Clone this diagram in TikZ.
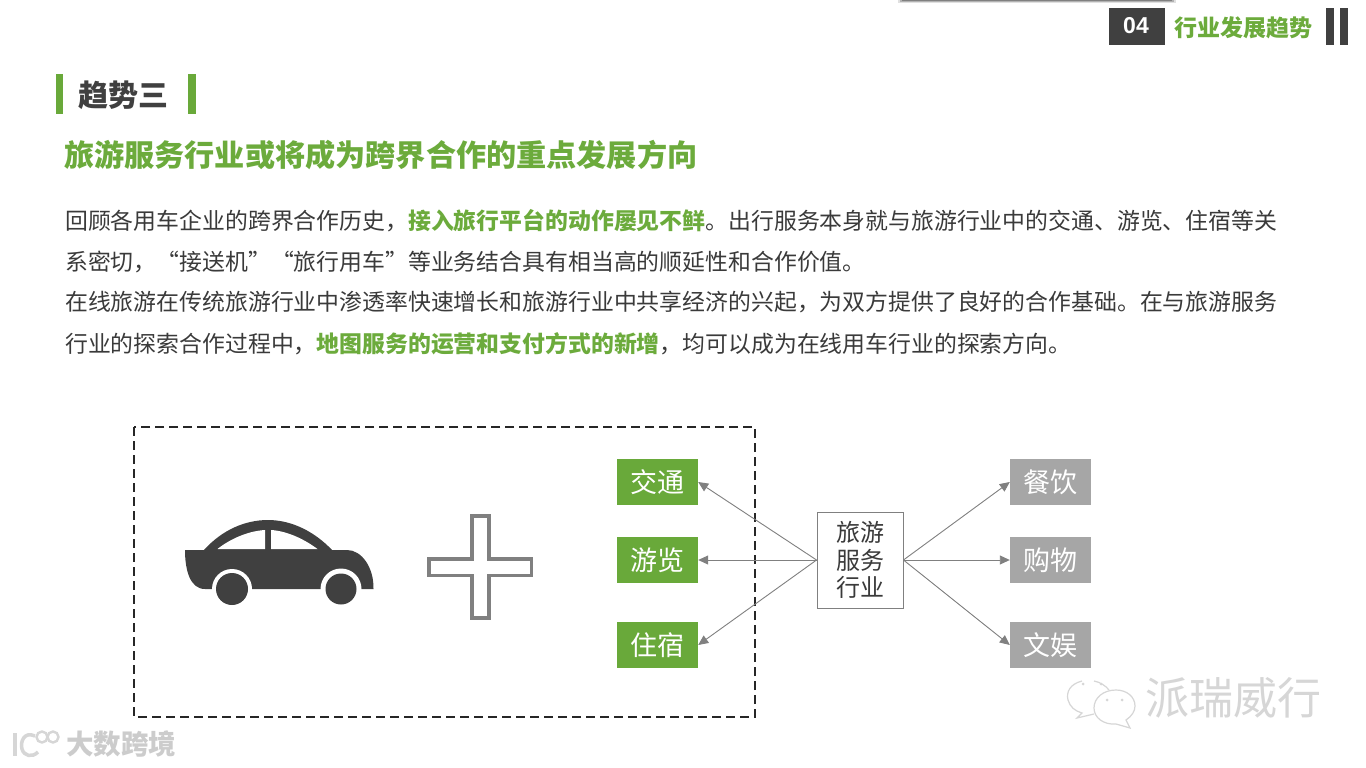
\documentclass[tikz,border=0pt]{standalone}
\usepackage{fontspec}
\setmainfont{Noto Sans CJK SC}
\newfontfamily\latinbold[Scale=1.0]{Liberation Sans}
\usetikzlibrary{arrows.meta}
\definecolor{pgreen}{HTML}{69A93A}
\definecolor{tgreen}{HTML}{6CAB3C}
\definecolor{pdark}{HTML}{404040}
\definecolor{pbody}{HTML}{3A3A3A}
\definecolor{pgrey}{HTML}{A6A6A6}
\definecolor{pline}{HTML}{808080}
\definecolor{wm}{HTML}{D6D6D6}
\newcommand{\fs}[1]{\fontsize{#1}{#1}\selectfont}
\tikzset{
  bodyline/.style={anchor=west,inner sep=0pt,text=pbody,font=\fs{22.87}},
  catbox/.style={minimum width=81pt,minimum height=46pt,inner sep=0pt,text=white,font=\fs{27}},
  greenbox/.style={catbox,fill=pgreen},
  greybox/.style={catbox,fill=pgrey},
  conn/.style={draw=pline,line width=0.9pt,-{Triangle[length=10pt,width=9pt,fill=pline]}},
  wmark/.style={inner sep=0pt,text=wm}
}
\begin{document}
\begin{tikzpicture}[x=1pt,y=-1pt]
\useasboundingbox (0,0) rectangle (1366,768);
\fill[white] (0,0) rectangle (1366,768);
% top shadow strip
\fill[black!12] (898,0) rectangle (1176,3.5);
\fill[black!30] (900,0) rectangle (1174,2);
\fill[black!50] (902,0) rectangle (1172,0.8);
% header
\node[fill=pdark,minimum width=56pt,minimum height=37pt,inner sep=0pt] (num) at (1137,26.5) {};
\node[inner sep=0pt,text=white,font=\latinbold\bfseries\fs{23}] (numt) at (1136,26) {04};
\node[inner sep=0pt,text=tgreen,font=\bfseries\fs{23}] (sect) at (1243,27.5) {行业发展趋势};
\fill[pdark] (1326,8) rectangle (1334,45);
\fill[pdark] (1340,8) rectangle (1348,45);
% heading
\fill[pgreen] (56,74) rectangle (63,114);
\fill[pgreen] (188,74) rectangle (196,114);
\node[inner sep=0pt,text=pdark,font=\bfseries\fs{30}] (trend) at (123,95) {趋势三};
\node[anchor=west,inner sep=0pt,text=tgreen,font=\bfseries\fs{30.15}] (sub) at (64,155) {旅游服务行业或将成为跨界合作的重点发展方向};
% body
\node[bodyline] (l1) at (65,221) {回顾各用车企业的跨界合作历史，\textcolor{tgreen}{\bfseries 接入旅行平台的动作屡见不鲜}。出行服务本身就与旅游行业中的交通、游览、住宿等关};
\node[bodyline] (l2) at (65,262) {系密切，“接送机”“旅行用车”等业务结合具有相当高的顺延性和合作价值。};
\node[bodyline] (l3) at (65,302) {在线旅游在传统旅游行业中渗透率快速增长和旅游行业中共享经济的兴起，为双方提供了良好的合作基础。在与旅游服务};
\node[bodyline] (l4) at (65,344) {行业的探索合作过程中，\textcolor{tgreen}{\bfseries 地图服务的运营和支付方式的新增}，均可以成为在线用车行业的探索方向。};
% dashed frame
\draw[draw=black!85,line width=2pt,dash pattern=on 9pt off 5pt] (134,427) rectangle (755,717);
% car
\fill[pdark] (185,550) -- (204,550) .. controls (222,530) and (245,520) .. (268,520)
  .. controls (292,520) and (315,532) .. (332,550) -- (347,550)
  .. controls (362,550) and (374,568) .. (373.5,589) -- (205,589)
  .. controls (190,589) and (185,570) .. (185,550) -- cycle;
\fill[white] (217.5,549) .. controls (230,539) and (248,531) .. (265,530) -- (265,549) -- cycle;
\fill[white] (271,530) .. controls (287,531) and (304,539) .. (317.5,549) -- (271,549) -- cycle;
\fill[white] (232,589) circle[radius=20];
\fill[white] (341,589) circle[radius=20.5];
\fill[pdark] (232,589) circle[radius=16];
\fill[pdark] (341,589) circle[radius=15.5];
% plus
\draw[draw=pline,line width=3.5pt,fill=white] (472,516) -- (489,516) -- (489,559) -- (531.5,559) -- (531.5,575.5) -- (489,575.5) -- (489,618) -- (472,618) -- (472,575.5) -- (429,575.5) -- (429,559) -- (472,559) -- cycle;
% boxes
\node[greenbox] (jt) at (657.5,482) {交通};
\node[greenbox] (yl) at (657.5,560) {游览};
\node[greenbox] (zs) at (657.5,645) {住宿};
\node[greybox] (cy) at (1050.5,482) {餐饮};
\node[greybox] (gw) at (1050.5,560) {购物};
\node[greybox] (wy) at (1050.5,645) {文娱};
\node[draw=pline,line width=0.9pt,fill=white,minimum width=86pt,minimum height=96pt,inner sep=0pt,align=center,text=pbody,font=\fontsize{24}{27.5}\selectfont] (hub) at (860,560) {旅游\\服务\\行业};
% connectors
\foreach \t in {jt,yl,zs} \draw[conn] (hub.west) -- (\t.east);
\foreach \t in {cy,gw,wy} \draw[conn] (hub.east) -- (\t.west);
% watermark right
\begin{scope}[draw=wm,line width=1.2pt]
\draw (1082,681) .. controls (1070,684) and (1066,692) .. (1068,700) .. controls (1070,707) and (1075,711) .. (1082,713) -- (1077,718) -- (1094,714);
\draw (1094,681) .. controls (1100,682) and (1106,686) .. (1109,690);
\draw (1116,690) .. controls (1103,690) and (1094,698) .. (1094,708) .. controls (1094,718) and (1104,725) .. (1116,724) -- (1130,728) -- (1126,720) .. controls (1132,716) and (1135,711) .. (1135,706) .. controls (1135,697) and (1127,690) .. (1116,690) -- cycle;
\end{scope}
\fill[wm] (1083,684) circle[radius=1.5] (1101,684) circle[radius=1.5] (1107,700) circle[radius=1.5] (1122,700) circle[radius=1.5];
\node[wmark,font=\fontsize{44}{44}\selectfont] (wm1) at (1233,698) {派瑞威行};
% watermark left
\begin{scope}[draw=wm,line width=3.5pt]
\draw (15,733) -- (15,756);
\draw (35,736) .. controls (24,731) and (20,742) .. (22,749) .. controls (24,756) and (32,758) .. (38,752);
\draw[line width=2.4pt] (42,737) circle[radius=5.5];
\draw[line width=2.4pt] (53,737) circle[radius=5.5];
\end{scope}
\node[wmark,font=\bfseries\fontsize{27.5}{27.5}\selectfont,text=black!20] (wm2) at (121,744) {大数跨境};
\end{tikzpicture}
\end{document}
